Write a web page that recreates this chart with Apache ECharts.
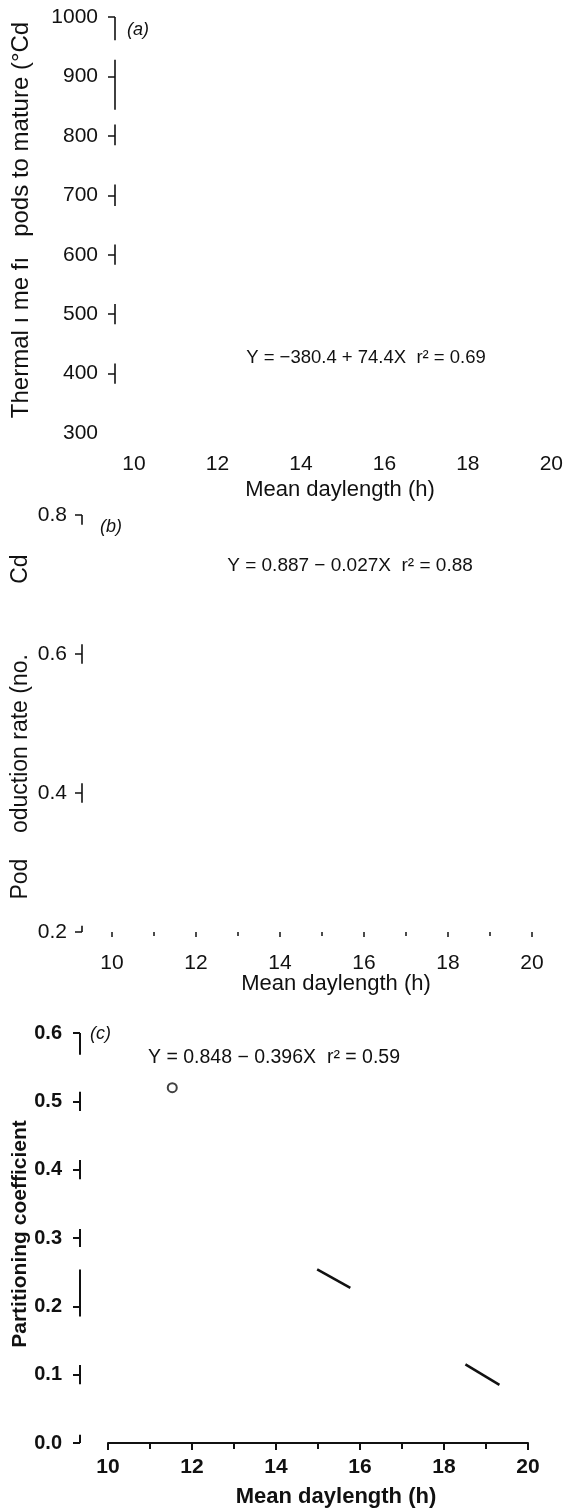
<!DOCTYPE html>
<html>
<head>
<meta charset="utf-8">
<script src="https://cdn.jsdelivr.net/npm/echarts@6/dist/echarts.min.js"></script>
<style>html,body{margin:0;padding:0;background:#fff}#c{width:566px;height:1510px}</style>
</head>
<body>
<div id="c"></div>
<script>
// ---------- data ----------
const xMin = 10, xMax = 20;
const xTickLabels = [10, 12, 14, 16, 18, 20];
const aYLabels = [300, 400, 500, 600, 700, 800, 900, 1000];
const aYTicks = [400, 500, 600, 700, 800, 900, 1000];
const bYLabels = [0.2, 0.4, 0.6, 0.8];
const cYLabels = [0.0, 0.1, 0.2, 0.3, 0.4, 0.5, 0.6];
// visible pieces of the (faded) y-axis lines, in axis units [from, to]
const aAxisPieces = [[961, 1000], [844, 928], [784, 819], [682, 718], [583, 617], [483, 517], [383, 417]];
const bAxisPieces = [[0.786, 0.8], [0.586, 0.614], [0.386, 0.414], [0.2, 0.209]];
const cAxisPieces = [[0.568, 0.6], [0.486, 0.514], [0.386, 0.414], [0.287, 0.313], [0.185, 0.254], [0.086, 0.114], [0.0, 0.012]];
// panel (c) marks
const cPoints = [[11.53, 0.52]];
const cFitPiece1 = [[14.98, 0.254], [15.77, 0.227]];
const cFitPiece2 = [[18.51, 0.115], [19.32, 0.085]];
// texts
const aTitleY = 'Thermal ı me fı   pods to mature (°Cd';
const bTitleY = 'Pod    oduction rate (no.           Cd';
const cTitleY = 'Partitioning coefficient';
const xTitle = 'Mean daylength (h)';
const aEq = 'Y = −380.4 + 74.4X  r² = 0.69';
const bEq = 'Y = 0.887 − 0.027X  r² = 0.88';
const cEq = 'Y = 0.848 − 0.396X  r² = 0.59';

// ---------- chart ----------
const FONT = '"Liberation Sans", Arial, Helvetica, sans-serif';
const chart = echarts.init(document.getElementById('c'), null, {renderer: 'canvas', width: 566, height: 1510});

const grids = [
  {left: 134, width: 420, top: 17, height: 416},
  {left: 112, width: 420, top: 515, height: 417},
  {left: 108, width: 420, top: 1033, height: 410}
];
const yOffsets = [19, 30, 28];

function pieceSeries(idx, pieces, lw) {
  return {
    type: 'custom', xAxisIndex: idx, yAxisIndex: idx, data: pieces, clip: false, silent: true, z: 5,
    renderItem: function (params, api) {
      const p0 = api.coord([xMin, api.value(0)]);
      const p1 = api.coord([xMin, api.value(1)]);
      const x = p0[0] - yOffsets[idx];
      return {type: 'line', shape: {x1: x, y1: p0[1], x2: x, y2: p1[1]},
        style: {stroke: '#111', lineWidth: lw}};
    }
  };
}

const lbl = (extra) => Object.assign({color: '#111', fontFamily: FONT, fontSize: 21}, extra);

const option = {
  animation: false,
  backgroundColor: '#fff',
  grid: grids,
  xAxis: [
    {type: 'value', gridIndex: 0, min: xMin, max: xMax, interval: 2, splitLine: {show: false},
      axisLine: {show: false}, axisTick: {show: false},
      axisLabel: lbl({customValues: xTickLabels, margin: 21})},
    {type: 'value', gridIndex: 1, min: xMin, max: xMax, interval: 2, splitLine: {show: false},
      axisLine: {show: false},
      axisTick: {show: true, length: 5, lineStyle: {color: '#111', width: 1.5}},
      minorTick: {show: true, splitNumber: 2, length: 4, lineStyle: {color: '#111', width: 1.5}},
      axisLabel: lbl({customValues: xTickLabels, margin: 21})},
    {type: 'value', gridIndex: 2, min: xMin, max: xMax, interval: 2, splitLine: {show: false},
      axisLine: {show: true, lineStyle: {color: '#111', width: 2}},
      axisTick: {show: true, length: 7, lineStyle: {color: '#111', width: 2}},
      minorTick: {show: true, splitNumber: 2, length: 6, lineStyle: {color: '#111', width: 2}},
      axisLabel: lbl({customValues: xTickLabels, margin: 14, fontWeight: 'bold'})}
  ],
  yAxis: [
    {type: 'value', gridIndex: 0, min: 300, max: 1000, interval: 100, offset: yOffsets[0],
      splitLine: {show: false}, axisLine: {show: false},
      axisTick: {show: true, length: 7, customValues: aYTicks, lineStyle: {color: '#111', width: 1.5}},
      axisLabel: lbl({customValues: aYLabels, margin: 17, formatter: v => String(v)})},
    {type: 'value', gridIndex: 1, min: 0.2, max: 0.8, interval: 0.2, offset: yOffsets[1],
      splitLine: {show: false}, axisLine: {show: false},
      axisTick: {show: true, length: 7, lineStyle: {color: '#111', width: 1.5}},
      axisLabel: lbl({customValues: bYLabels, margin: 15, formatter: v => v.toFixed(1)})},
    {type: 'value', gridIndex: 2, min: 0, max: 0.6, interval: 0.1, offset: yOffsets[2],
      splitLine: {show: false}, axisLine: {show: false},
      axisTick: {show: true, length: 7, lineStyle: {color: '#111', width: 2}},
      axisLabel: lbl({customValues: cYLabels, margin: 18, fontSize: 20, fontWeight: 'bold',
        formatter: v => v.toFixed(1)})}
  ],
  graphic: [
    // y-axis titles (rotated)
    {type: 'text', x: 21, y: 220, rotation: Math.PI / 2,
      style: {text: aTitleY, fill: '#111', font: '24px ' + FONT, align: 'center', verticalAlign: 'middle'}},
    {type: 'text', x: 21, y: 727, rotation: Math.PI / 2,
      style: {text: bTitleY, fill: '#111', font: '23px ' + FONT, align: 'center', verticalAlign: 'middle'}},
    {type: 'text', x: 20, y: 1234, rotation: Math.PI / 2,
      style: {text: cTitleY, fill: '#111', font: 'bold 21px ' + FONT, align: 'center', verticalAlign: 'middle'}},
    // x-axis titles
    {type: 'text', x: 340, y: 490, style: {text: xTitle, fill: '#111', font: '22px ' + FONT, align: 'center', verticalAlign: 'middle'}},
    {type: 'text', x: 336, y: 984, style: {text: xTitle, fill: '#111', font: '22px ' + FONT, align: 'center', verticalAlign: 'middle'}},
    {type: 'text', x: 336, y: 1497, style: {text: xTitle, fill: '#111', font: 'bold 22px ' + FONT, align: 'center', verticalAlign: 'middle'}},
    // panel letters
    {type: 'text', x: 127, y: 30, style: {text: '(a)', fill: '#111', font: 'italic 18px ' + FONT, align: 'left', verticalAlign: 'middle'}},
    {type: 'text', x: 100, y: 527, style: {text: '(b)', fill: '#111', font: 'italic 18px ' + FONT, align: 'left', verticalAlign: 'middle'}},
    {type: 'text', x: 90, y: 1034, style: {text: '(c)', fill: '#111', font: 'italic 18px ' + FONT, align: 'left', verticalAlign: 'middle'}},
    // regression equations
    {type: 'text', x: 366, y: 358, style: {text: aEq, fill: '#111', font: '18.5px ' + FONT, align: 'center', verticalAlign: 'middle'}},
    {type: 'text', x: 350, y: 566, style: {text: bEq, fill: '#111', font: '19px ' + FONT, align: 'center', verticalAlign: 'middle'}},
    {type: 'text', x: 148, y: 1058, style: {text: cEq, fill: '#111', font: '19.5px ' + FONT, align: 'left', verticalAlign: 'middle'}}
  ],
  series: [
    pieceSeries(0, aAxisPieces, 1.6),
    pieceSeries(1, bAxisPieces, 1.6),
    pieceSeries(2, cAxisPieces, 2),
    {type: 'scatter', xAxisIndex: 2, yAxisIndex: 2, data: cPoints, symbol: 'circle', symbolSize: 9,
      itemStyle: {color: '#fff', borderColor: '#111', borderWidth: 2}, z: 6},
    {type: 'line', xAxisIndex: 2, yAxisIndex: 2, data: cFitPiece1, symbol: 'none',
      lineStyle: {color: '#111', width: 2.5}},
    {type: 'line', xAxisIndex: 2, yAxisIndex: 2, data: cFitPiece2, symbol: 'none',
      lineStyle: {color: '#111', width: 2.5}}
  ]
};
chart.setOption(option);
</script>
</body>
</html>
